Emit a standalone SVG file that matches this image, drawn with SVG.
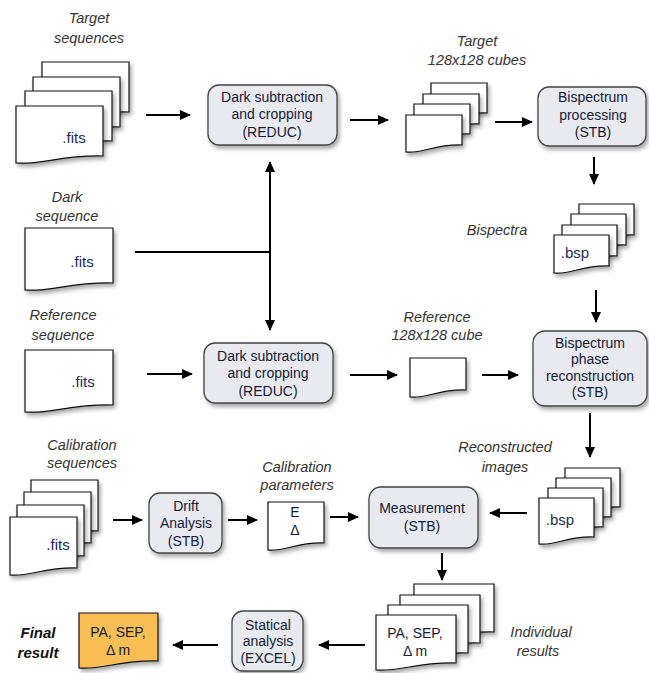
<svg xmlns="http://www.w3.org/2000/svg" width="649" height="673" viewBox="0 0 649 673">
<defs>
<filter id="sh" x="-20%" y="-20%" width="140%" height="150%">
<feDropShadow dx="2" dy="3" stdDeviation="2" flood-color="#000" flood-opacity="0.35"/>
</filter>
<marker id="ah" markerUnits="userSpaceOnUse" markerWidth="11" markerHeight="10" refX="10" refY="5" orient="auto-start-reverse">
<path d="M0,0 L11,5 L0,10 Z" fill="#000"/>
</marker>
<style>
.pg{fill:#fff;stroke:#111;stroke-width:1.2;filter:url(#sh)}
.or{fill:#f9bf55}
.bx{fill:#e9eaf0;stroke:#444;stroke-width:1.3;filter:url(#sh)}
.t{font-family:"Liberation Sans",Arial,sans-serif;font-size:14px;fill:#141a38;text-anchor:middle}
.f{font-family:"Liberation Sans",Arial,sans-serif;font-size:15px;fill:#1b2a5a;text-anchor:middle}
.lb{font-family:"Liberation Sans",Arial,sans-serif;font-size:14.5px;font-style:italic;fill:#333;text-anchor:middle}
.fr{font-family:"Liberation Sans",Arial,sans-serif;font-size:15px;font-style:italic;font-weight:bold;fill:#111;text-anchor:middle}
.cn line,.cn path{stroke:#000;stroke-width:2;fill:none}
.ar{marker-end:url(#ah)}
</style>
</defs>
<rect width="649" height="673" fill="#fff"/>

<g id="labels">
<text class="lb" x="89" y="23">Target</text>
<text class="lb" x="89" y="43">sequences</text>
<text class="lb" x="477" y="46">Target</text>
<text class="lb" x="477" y="65">128x128 cubes</text>
<text class="lb" x="497" y="235">Bispectra</text>
<text class="lb" x="67" y="202">Dark</text>
<text class="lb" x="67" y="221">sequence</text>
<text class="lb" x="63" y="320">Reference</text>
<text class="lb" x="63" y="340">sequence</text>
<text class="lb" x="437" y="322">Reference</text>
<text class="lb" x="437" y="340">128x128 cube</text>
<text class="lb" x="505" y="452">Reconstructed</text>
<text class="lb" x="505" y="472">images</text>
<text class="lb" x="82" y="450">Calibration</text>
<text class="lb" x="82" y="468">sequences</text>
<text class="lb" x="297" y="472">Calibration</text>
<text class="lb" x="297" y="490">parameters</text>
<text class="lb" x="541" y="637">Individual</text>
<text class="lb" x="538" y="656">results</text>
<text class="fr" x="38" y="638">Final</text>
<text class="fr" x="38" y="658">result</text>
</g>

<g id="target-sequences">
<path class="pg" d="M42,62 H129 V112 C85.5,111 68.1,121 42,119 Z"/>
<path class="pg" d="M33,77 H120 V127 C76.5,126 59.1,136 33,134 Z"/>
<path class="pg" d="M25,91 H112 V141 C68.5,140 51.1,150 25,148 Z"/>
<path class="pg" d="M16,106 H103 V156 C59.5,155 42.1,165 16,163 Z"/>
<text class="f" x="74" y="143">.fits</text>
</g>

<g id="dark-sequence">
<path class="pg" d="M25,228 H113 V283 C69,282 51.4,292 25,290 Z"/>
<text class="f" x="82" y="267">.fits</text>
</g>

<g id="reference-sequence">
<path class="pg" d="M25,350 H113 V405 C69,404 51.4,414 25,412 Z"/>
<text class="f" x="83" y="387">.fits</text>
</g>

<g id="reduc-top">
<rect class="bx" x="208" y="85" width="129" height="60" rx="11"/>
<text class="t" x="272" y="102">Dark subtraction</text>
<text class="t" x="272" y="119">and cropping</text>
<text class="t" x="272" y="137">(REDUC)</text>
</g>

<g id="reduc-bottom">
<rect class="bx" x="204" y="343" width="129" height="60" rx="11"/>
<text class="t" x="268" y="361">Dark subtraction</text>
<text class="t" x="268" y="378">and cropping</text>
<text class="t" x="268" y="396">(REDUC)</text>
</g>

<g id="target-cubes">
<path class="pg" d="M431,83 H487 V113 C459,112 447.8,122 431,120 Z"/>
<path class="pg" d="M423,94 H479 V124 C451,123 439.8,133 423,131 Z"/>
<path class="pg" d="M414,104 H470 V134 C442,133 430.8,143 414,141 Z"/>
<path class="pg" d="M406,115 H462 V145 C434,144 422.8,154 406,152 Z"/>
</g>

<g id="bispectrum-processing">
<rect class="bx" x="538" y="87" width="108" height="59" rx="11"/>
<text class="t" x="593" y="102">Bispectrum</text>
<text class="t" x="593" y="120">processing</text>
<text class="t" x="593" y="137">(STB)</text>
</g>

<g id="bispectra">
<path class="pg" d="M579,204 H634 V235 C606.5,234 595.5,244 579,242 Z"/>
<path class="pg" d="M571,214 H626 V245 C598.5,244 587.5,254 571,252 Z"/>
<path class="pg" d="M562,225 H617 V256 C589.5,255 578.5,265 562,263 Z"/>
<path class="pg" d="M554,235 H609 V266 C581.5,265 570.5,275 554,273 Z"/>
<text class="f" x="575" y="258">.bsp</text>
</g>

<g id="reference-cube">
<path class="pg" d="M410,358 H466 V390 C438,389 426.8,399 410,397 Z"/>
</g>

<g id="phase-reconstruction">
<rect class="bx" x="533" y="331" width="114" height="75" rx="12"/>
<text class="t" x="590" y="348">Bispectrum</text>
<text class="t" x="590" y="364">phase</text>
<text class="t" x="590" y="381">reconstruction</text>
<text class="t" x="590" y="397">(STB)</text>
</g>

<g id="reconstructed-images">
<path class="pg" d="M565,468 H620 V507 C592.5,506 581.5,516 565,514 Z"/>
<path class="pg" d="M556,478 H611 V517 C583.5,516 572.5,526 556,524 Z"/>
<path class="pg" d="M548,488 H603 V527 C575.5,526 564.5,536 548,534 Z"/>
<path class="pg" d="M539,498 H594 V537 C566.5,536 555.5,546 539,544 Z"/>
<text class="f" x="560" y="525">.bsp</text>
</g>

<g id="measurement">
<rect class="bx" x="369" y="487" width="109" height="61" rx="12"/>
<text class="t" x="422" y="513">Measurement</text>
<text class="t" x="422" y="531">(STB)</text>
</g>

<g id="calibration-sequences">
<path class="pg" d="M31,480 H98 V531 C64.5,530 51.1,540 31,538 Z"/>
<path class="pg" d="M24,492 H91 V543 C57.5,542 44.1,552 24,550 Z"/>
<path class="pg" d="M17,505 H84 V556 C50.5,555 37.1,565 17,563 Z"/>
<path class="pg" d="M10,517 H77 V568 C43.5,567 30.1,577 10,575 Z"/>
<text class="f" x="58" y="550">.fits</text>
</g>

<g id="drift-analysis">
<rect class="bx" x="149" y="493" width="73" height="60" rx="11"/>
<text class="t" x="186" y="511">Drift</text>
<text class="t" x="186" y="528">Analysis</text>
<text class="t" x="186" y="546">(STB)</text>
</g>

<g id="calibration-parameters">
<path class="pg" d="M268,502 H324 V543 C296,542 284.8,552 268,550 Z"/>
<text class="t" x="295" y="517">E</text>
<text class="t" x="295" y="535">Δ</text>
</g>

<g id="individual-results">
<path class="pg" d="M414,584 H494 V632 C454,631 438,641 414,639 Z"/>
<path class="pg" d="M400,595 H480 V643 C440,642 424,652 400,650 Z"/>
<path class="pg" d="M388,605 H468 V653 C428,652 412,662 388,660 Z"/>
<path class="pg" d="M376,615 H456 V663 C416,662 400,672 376,670 Z"/>
<text class="t" x="415" y="638">PA, SEP,</text>
<text class="t" x="415" y="656">Δ m</text>
</g>

<g id="statical-analysis">
<rect class="bx" x="232" y="611" width="71" height="60" rx="11"/>
<text class="t" x="268" y="630">Statical</text>
<text class="t" x="268" y="646">analysis</text>
<text class="t" x="268" y="663">(EXCEL)</text>
</g>

<g id="final-result">
<path class="pg or" d="M79,613 H158 V661 C118.5,660 102.7,670 79,668 Z"/>
<text class="t" x="118" y="637">PA, SEP,</text>
<text class="t" x="118" y="655">Δ m</text>
</g>

<g id="connectors" class="cn">
<line class="ar" x1="146" y1="115" x2="190" y2="115"/>
<line class="ar" x1="350" y1="120" x2="388" y2="120"/>
<line class="ar" x1="495" y1="122" x2="532" y2="122"/>
<line class="ar" x1="594" y1="157" x2="594" y2="184"/>
<line class="ar" x1="596" y1="290" x2="596" y2="322"/>
<line x1="135" y1="252" x2="270" y2="252"/>
<line x1="270" y1="162" x2="270" y2="330" marker-start="url(#ah)" marker-end="url(#ah)"/>
<line class="ar" x1="147" y1="374" x2="192" y2="374"/>
<line class="ar" x1="350" y1="375" x2="397" y2="375"/>
<line class="ar" x1="482" y1="375" x2="518" y2="375"/>
<line class="ar" x1="590" y1="413" x2="590" y2="457"/>
<line class="ar" x1="527" y1="513" x2="490" y2="513"/>
<line class="ar" x1="442" y1="553" x2="442" y2="580"/>
<line class="ar" x1="365" y1="645" x2="319" y2="645"/>
<line class="ar" x1="218" y1="645" x2="173" y2="645"/>
<line class="ar" x1="113" y1="520" x2="142" y2="520"/>
<line class="ar" x1="228" y1="520" x2="257" y2="520"/>
<line class="ar" x1="330" y1="517" x2="358" y2="517"/>
</g>
</svg>
